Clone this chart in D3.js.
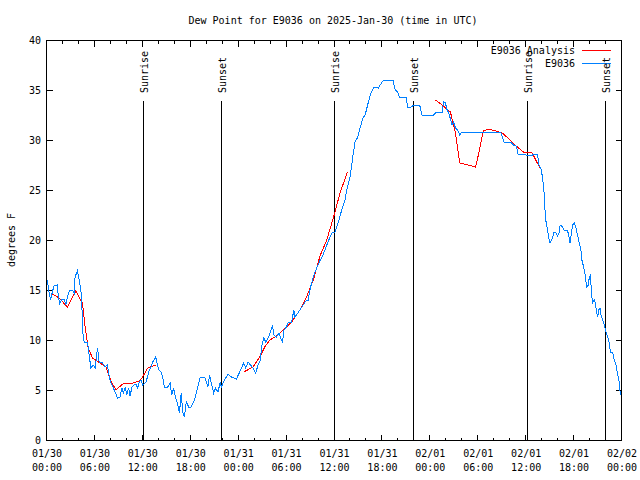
<!DOCTYPE html>
<html><head><meta charset="utf-8">
<script src="https://cdn.jsdelivr.net/npm/d3@7"></script>
<style>body{margin:0;background:#fff}svg{display:block}text{font-family:"DejaVu Sans Mono",monospace;font-size:10px;fill:#000}</style>
</head><body><div id="chart"></div>
<script>
// ---- data (hours since 2025-01-30 00:00 UTC) ----
const chartTitle = "Dew Point for E9036 on 2025-Jan-30 (time in UTC)";
const yLabel = "degrees F";
const xTickDates = ["01/30","01/30","01/30","01/30","01/31","01/31","01/31","01/31","02/01","02/01","02/01","02/01","02/02"];
const xTickTimes = ["00:00","06:00","12:00","18:00","00:00","06:00","12:00","18:00","00:00","06:00","12:00","18:00","00:00"];
const yTicks = [0,5,10,15,20,25,30,35,40];
const seriesNames = ["E9036 Analysis","E9036"];

const obsHours = [0.16,0.38,0.59,0.79,1.01,1.42,1.55,1.72,1.97,2.26,2.48,2.68,2.98,3.31,3.52,3.64,3.93,4.15,4.36,4.49,4.56,4.78,5.19,5.40,5.62,5.91,6.16,6.45,6.66,7.07,7.41,7.70,7.92,8.13,8.55,8.96,9.26,9.51,9.68,9.93,10.09,10.34,10.52,10.77,11.06,11.27,11.47,11.69,11.90,12.10,12.53,12.94,13.16,13.36,13.73,13.82,14.11,14.41,14.61,14.83,15.24,15.54,15.75,15.96,16.21,16.50,16.71,16.93,17.13,17.34,17.56,17.88,18.18,18.60,19.01,19.31,19.85,20.07,20.27,20.48,20.70,20.99,21.24,21.53,21.83,21.95,22.37,22.78,23.21,23.84,24.25,24.76,25.01,25.30,25.60,25.93,26.26,26.55,26.85,26.98,27.27,27.52,27.81,28.11,28.36,28.53,28.86,29.19,29.37,29.62,29.78,30.03,30.32,30.75,31.04,31.16,31.45,31.79,32.21,32.63,32.83,33.05,33.26,33.55,33.89,34.22,34.56,34.93,35.31,35.78,36.19,36.61,37.03,37.32,37.45,37.66,38.08,38.41,38.70,38.99,39.33,39.67,39.96,40.37,40.68,41.00,41.34,41.63,41.85,42.26,43.44,43.73,44.02,44.27,45.11,45.28,45.74,46.03,46.79,47.09,48.54,48.88,49.60,49.80,50.01,50.23,50.43,50.86,51.06,51.27,51.56,51.81,52.02,56.92,57.14,57.34,58.18,58.52,58.81,59.02,59.10,59.85,60.07,60.91,61.04,61.54,61.74,61.95,62.17,62.37,62.46,62.58,62.79,63.00,63.12,63.30,63.43,63.62,63.84,64.05,64.25,64.38,64.68,64.88,65.30,65.51,65.63,65.81,65.93,66.14,66.35,66.47,66.64,66.76,66.98,67.10,67.32,67.48,67.61,67.73,67.90,68.02,68.15,68.23,68.36,68.45,68.65,68.78,68.90,69.08,69.28,69.41,69.49,69.71,69.91,70.12,70.33,70.54,70.66,70.96,71.16,71.37,71.59,71.79,71.92];
const obsValues = [16.0,14.8,14.0,14.8,15.4,15.5,14.3,13.6,14.1,14.1,13.5,14.3,15.0,15.0,14.7,16.3,16.9,16.0,15.0,13.8,11.0,9.8,9.8,8.5,7.2,7.5,7.2,9.2,7.8,7.7,7.3,7.5,6.3,5.7,5.0,4.2,4.3,5.2,4.7,5.3,4.5,5.2,4.4,5.3,5.5,5.6,5.2,5.8,6.0,5.5,5.8,7.0,7.3,7.8,8.3,8.0,7.0,6.8,6.3,5.3,5.3,5.7,4.5,5.2,4.3,3.5,2.7,4.7,2.8,2.3,3.8,3.3,3.3,4.0,5.3,6.3,6.3,5.8,5.3,6.5,5.7,4.7,5.2,4.8,5.8,5.3,6.0,6.6,6.3,6.1,6.8,7.7,7.2,7.8,7.5,7.2,6.7,7.5,8.0,9.3,10.2,9.8,10.2,10.8,11.5,10.5,10.3,10.7,10.2,9.8,11.0,11.2,11.7,11.8,13.0,12.3,12.6,13.0,13.5,14.0,14.0,15.0,15.7,16.5,17.2,17.8,18.3,19.0,19.8,20.7,20.8,21.8,23.0,23.7,24.0,25.0,26.3,28.3,29.8,30.2,31.2,32.2,32.5,33.8,34.7,35.2,35.3,35.2,35.5,36.0,36.0,35.0,34.8,34.3,34.3,33.3,33.3,33.5,33.5,32.5,32.5,32.8,32.8,33.8,33.7,33.0,32.7,31.5,31.8,31.2,31.0,30.5,30.8,30.8,30.3,29.8,29.8,29.5,29.5,29.0,28.6,28.6,28.5,28.5,28.6,28.6,27.5,27.2,26.3,24.7,23.3,22.0,21.0,20.0,19.7,20.0,20.2,20.8,20.7,20.4,20.7,21.5,21.3,21.0,21.0,20.2,19.7,20.8,21.5,21.7,21.3,20.8,20.2,19.7,19.0,18.0,17.3,16.7,15.8,15.3,15.5,16.2,16.4,15.7,14.3,13.7,14.0,13.7,13.0,12.3,13.2,13.2,12.5,12.0,11.5,10.8,10.3,9.7,8.8,8.7,8.0,7.5,6.5,5.7,4.5];

// analysis series; NaN separates gaps
const anaHours = [0.59,1.63,2.68,3.73,4.56,4.90,5.28,5.82,7.50,8.13,8.76,9.59,10.85,11.69,12.10,12.73,13.78,NaN,
  24.76,25.93,26.77,27.39,28.02,28.86,29.69,30.75,31.79,32.63,33.47,34.31,35.15,35.98,36.82,37.74,NaN,
  48.76,49.60,50.64,51.27,51.81,53.78,54.20,54.75,55.46,56.30,57.14,57.97,59.02,59.77,60.91,61.32,61.87];
const anaValues = [14.7,14.2,13.3,14.9,13.7,11.3,9.2,8.2,7.3,5.9,5.0,5.6,5.7,5.9,6.3,7.2,7.5,NaN,
  6.8,7.3,8.3,9.3,10.0,10.4,11.0,11.8,13.0,14.3,16.0,18.4,20.0,22.2,24.7,26.8,NaN,
  34.0,33.5,32.8,30.7,27.7,27.3,28.7,30.9,31.1,30.9,30.7,30.1,29.3,28.8,28.7,28.0,27.2];

const sunEvents = ["Sunrise","Sunset","Sunrise","Sunset","Sunrise","Sunset"];
const sunHours = [12.10,21.90,36.10,45.95,60.23,70.03];

// ---- layout ----
const W = 640, H = 480;
const L = 46, R = 621, T = 40, B = 440;
const svg = d3.select("#chart").append("svg").attr("width", W).attr("height", H);
const x = d3.scaleLinear().domain([0, 72]).range([L, R]);
const y = d3.scaleLinear().domain([0, 40]).range([B, T]);
const g = svg.append("g").attr("transform", "translate(0.5,0.5)");

// title and axis label
svg.append("text").attr("x", 333).attr("y", 24).attr("text-anchor", "middle").text(chartTitle);
svg.append("text").attr("transform", "translate(15,240) rotate(-90)").attr("text-anchor", "middle").text(yLabel);

// ticks
const majorX = d3.range(0, 73, 6), minorX = d3.range(0, 73, 2).filter(h => h % 6 !== 0);
const tickG = g.append("g").attr("stroke", "#000").attr("stroke-width", 1).attr("shape-rendering", "crispEdges");
minorX.forEach(h => {
  const px = Math.round(x(h));
  tickG.append("line").attr("x1", px).attr("x2", px).attr("y1", B).attr("y2", B - 3);
  tickG.append("line").attr("x1", px).attr("x2", px).attr("y1", T).attr("y2", T + 3);
});
majorX.forEach(h => {
  const px = Math.round(x(h));
  tickG.append("line").attr("x1", px).attr("x2", px).attr("y1", B).attr("y2", B - 6);
  tickG.append("line").attr("x1", px).attr("x2", px).attr("y1", T).attr("y2", T + 6);
});
yTicks.forEach(v => {
  const py = Math.round(y(v));
  tickG.append("line").attr("x1", L).attr("x2", L + 6).attr("y1", py).attr("y2", py);
  tickG.append("line").attr("x1", R).attr("x2", R - 6).attr("y1", py).attr("y2", py);
});

// tick labels
majorX.forEach((h, i) => {
  svg.append("text").attr("x", x(h) + 1).attr("y", 457).attr("text-anchor", "middle").text(xTickDates[i]);
  svg.append("text").attr("x", x(h) + 1).attr("y", 471).attr("text-anchor", "middle").text(xTickTimes[i]);
});
yTicks.forEach(v => {
  svg.append("text").attr("x", 41).attr("y", y(v) + 4).attr("text-anchor", "end").text(v);
});

// sunrise / sunset
sunHours.forEach((h, i) => {
  const px = Math.round(x(h));
  g.append("line").attr("x1", px).attr("x2", px).attr("y1", B).attr("y2", 100).attr("stroke", "#000").attr("shape-rendering", "crispEdges");
  svg.append("text").attr("transform", `translate(${px + 4.5},93) rotate(-90)`).attr("text-anchor", "start").text(sunEvents[i]);
});

// series
const obs = obsHours.map((h, i) => [h, obsValues[i]]);
const ana = anaHours.map((h, i) => [h, anaValues[i]]);
const line = d3.line().defined(d => !isNaN(d[0]) && !isNaN(d[1])).x(d => x(d[0])).y(d => y(d[1]));
svg.append("path").datum(ana).attr("d", line).attr("fill", "none").attr("stroke", "#ff0000").attr("stroke-width", 1).attr("shape-rendering", "crispEdges");
svg.append("path").datum(obs).attr("d", line).attr("fill", "none").attr("stroke", "#0080ff").attr("stroke-width", 1).attr("shape-rendering", "crispEdges");

// legend
const legColors = ["#ff0000", "#0080ff"];
seriesNames.forEach((n, i) => {
  const ly = 50 + i * 13;
  svg.append("text").attr("x", 575).attr("y", ly + 4).attr("text-anchor", "end").text(n);
  g.append("line").attr("x1", 581).attr("x2", 610).attr("y1", ly).attr("y2", ly).attr("stroke", legColors[i]).attr("shape-rendering", "crispEdges");
});

// border
g.append("rect").attr("x", L).attr("y", T).attr("width", R - L).attr("height", B - T).attr("fill", "none").attr("stroke", "#000").attr("shape-rendering", "crispEdges");
</script></body></html>
